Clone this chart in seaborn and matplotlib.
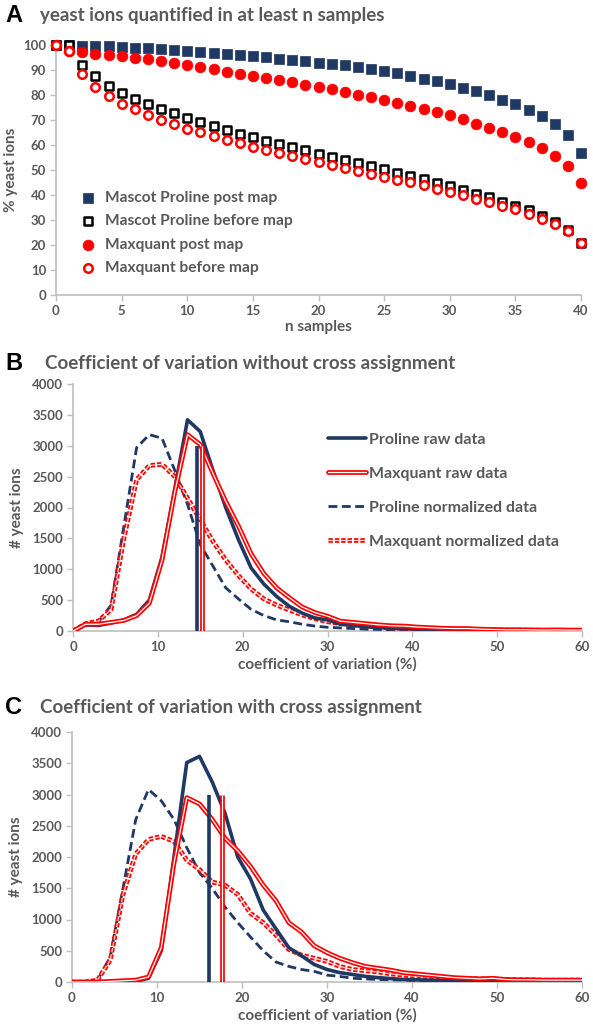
import matplotlib
matplotlib.use("Agg")
import pandas as pd
import seaborn as sns
import matplotlib.pyplot as plt
import matplotlib.patheffects as pe

# painel A: % de ions de levedura quantificados em pelo menos n amostras
n_samples = list(range(0, 41))
proline_post = [100, 100, 99.8, 99.6, 99.5, 99.3, 99.0, 98.8, 98.5, 98.2, 97.8,
                97.4, 97.0, 96.5, 96.0, 95.7, 95.2, 94.6, 94.1, 93.6, 93.0,
                92.5, 91.9, 91.1, 90.3, 89.6, 88.7, 87.6, 86.4, 85.6, 84.4,
                83.0, 81.6, 80.0, 78.2, 76.3, 74.1, 71.7, 68.3, 64.2, 56.8]
proline_before = [100, 100, 91.9, 87.6, 83.8, 81.0, 78.5, 76.3, 74.4, 72.7, 70.9,
                  69.2, 67.5, 65.9, 64.5, 63.1, 61.7, 60.4, 59.1, 57.9, 56.6,
                  55.2, 54.0, 52.7, 51.6, 50.3, 49.0, 47.6, 46.3, 45.0, 43.6,
                  42.1, 40.6, 39.2, 37.4, 35.8, 34.0, 31.7, 29.2, 26.1, 20.9]
maxquant_post = [100, 97.8, 97.1, 96.5, 96.0, 95.5, 95.0, 94.4, 93.6, 92.8, 92.0,
                 91.1, 90.3, 89.4, 88.6, 87.8, 87.0, 86.1, 85.1, 84.2, 83.4,
                 82.4, 81.3, 80.2, 79.3, 78.2, 77.0, 75.8, 74.4, 73.2, 71.9,
                 70.3, 68.6, 67.0, 65.2, 63.3, 61.1, 58.7, 55.6, 51.8, 44.7]
maxquant_before = [100, 97.6, 88.3, 83.1, 79.6, 76.5, 74.3, 72.1, 70.2, 68.5, 66.6,
                   65.1, 63.6, 62.2, 60.8, 59.4, 58.1, 56.9, 55.8, 54.5, 53.2,
                   52.1, 50.8, 49.6, 48.5, 47.3, 46.2, 45.1, 43.9, 42.6, 41.4,
                   40.1, 38.6, 37.3, 35.8, 34.3, 32.5, 30.5, 28.5, 25.6, 20.8]

# paineis B e C: distribuicao do coeficiente de variacao
cv_bins = [0, 1.5, 3, 4.5, 6, 7.5, 9, 10.5, 12, 13.5, 15, 16.5, 18, 19.5, 21,
           22.5, 24, 25.5, 27, 28.5, 30, 31.5, 33, 34.5, 36, 37.5, 39, 40.5,
           42, 43.5, 45, 46.5, 48, 49.5, 51, 52.5, 54, 55.5, 57, 58.5, 60]

b_proline_raw = [0, 100, 90, 130, 180, 270, 500, 1200, 2300, 3420, 3230, 2600,
                 2000, 1480, 1020, 760, 560, 400, 290, 210, 180, 110, 90, 70,
                 55, 45, 40, 32, 30, 25, 22, 20, 15, 12, 10, 10, 10, 10, 10, 10, 10]
b_maxquant_raw = [0, 110, 110, 140, 170, 250, 450, 1150, 2250, 3180, 3020, 2550,
                  2100, 1700, 1250, 930, 700, 540, 390, 300, 240, 160, 140, 120,
                  100, 85, 80, 65, 55, 45, 40, 40, 30, 25, 20, 20, 18, 15, 18, 15, 15]
b_proline_norm = [0, 90, 150, 420, 1700, 2970, 3180, 3120, 2600, 2050, 1400, 1050,
                  700, 520, 350, 250, 180, 150, 110, 80, 60, 50, 40, 30, 25, 20,
                  18, 15, 12, 10, 10, 8, 8, 6, 6, 5, 5, 5, 5, 5, 5]
b_maxquant_norm = [0, 120, 160, 350, 1500, 2450, 2680, 2700, 2500, 2150, 1800, 1450,
                   1150, 900, 680, 520, 420, 340, 260, 200, 150, 120, 100, 80, 60,
                   50, 45, 40, 35, 30, 28, 25, 20, 18, 15, 15, 12, 12, 10, 10, 10]
b_medians = [14.6, 15.2]

c_proline_raw = [0, 0, 0, 0, 5, 10, 60, 500, 2000, 3510, 3610, 3200, 2700, 2000,
                 1650, 1150, 850, 550, 420, 280, 200, 150, 120, 90, 70, 55, 40,
                 35, 30, 25, 22, 20, 18, 15, 12, 12, 10, 10, 10, 10, 10]
c_maxquant_raw = [0, 0, 0, 10, 20, 30, 80, 550, 1900, 2950, 2850, 2600, 2300, 2100,
                  1850, 1550, 1300, 950, 800, 580, 470, 380, 310, 250, 220, 190,
                  150, 130, 110, 90, 70, 60, 50, 60, 40, 35, 35, 30, 30, 30, 30]
c_proline_norm = [0, 0, 30, 400, 1500, 2600, 3080, 2900, 2600, 2150, 1750, 1500,
                  1200, 950, 720, 500, 320, 250, 200, 170, 110, 90, 60, 50, 40,
                  35, 30, 25, 20, 18, 15, 15, 12, 12, 10, 10, 10, 10, 10, 10, 10]
c_maxquant_norm = [0, 0, 30, 350, 1400, 2050, 2280, 2330, 2250, 1950, 1800, 1600,
                   1550, 1400, 1100, 950, 750, 520, 430, 380, 330, 250, 200, 180,
                   160, 130, 110, 90, 80, 70, 60, 55, 50, 45, 40, 35, 35, 30, 30, 30, 30]
c_medians = [16.1, 17.7]
median_height = 3000

NAVY = "#1f3864"
RED = "#ff0000"
GREY = "#595959"

sns.set_style("white")
plt.rcParams["font.family"] = ["Lato", "DejaVu Sans"]
plt.rcParams["font.weight"] = "bold"

fig = plt.figure(figsize=(5.93, 10.32), dpi=100)


def estilo(ax):
    sns.despine(ax=ax)
    for lado in ["left", "bottom"]:
        ax.spines[lado].set_color("#bfbfbf")
        ax.spines[lado].set_linewidth(1.2)
    ax.tick_params(axis="both", which="major", length=4, width=1, color="#bfbfbf",
                   labelsize=9.5, labelcolor=GREY, direction="out", pad=3,
                   left=True, bottom=True)
    for lab in ax.get_xticklabels() + ax.get_yticklabels():
        lab.set_fontweight("bold")


# ---------------- A ----------------
axA = fig.add_axes([56 / 593, 1 - 295 / 1032, 525 / 593, 250 / 1032])
dfA = pd.DataFrame({"n": n_samples, "pp": proline_post, "pb": proline_before,
                    "mp": maxquant_post, "mb": maxquant_before})
sns.scatterplot(data=dfA, x="n", y="pp", ax=axA, marker="s", s=52, color=NAVY,
                edgecolor=NAVY, linewidth=0.5, label="Mascot Proline post map", zorder=3)
sns.scatterplot(data=dfA, x="n", y="pb", ax=axA, marker="s", s=40, facecolor="white",
                edgecolor="black", linewidth=1.8, label="Mascot Proline before map", zorder=4)
sns.scatterplot(data=dfA, x="n", y="mp", ax=axA, marker="o", s=60, color=RED,
                edgecolor=RED, linewidth=0.5, label="Maxquant post map", zorder=5)
sns.scatterplot(data=dfA, x="n", y="mb", ax=axA, marker="o", s=38, facecolor="white",
                edgecolor=RED, linewidth=1.8, label="Maxquant before map", zorder=6)
axA.set_xlim(0, 40)
axA.set_ylim(0, 100)
axA.set_xticks(range(0, 41, 5))
axA.set_yticks(range(0, 101, 10))
axA.set_xlabel("n samples", fontsize=11, color=GREY, fontweight="bold", labelpad=2)
axA.set_ylabel("% yeast ions", fontsize=11, color=GREY, fontweight="bold", labelpad=4)
estilo(axA)
legA = axA.legend(loc="lower left", bbox_to_anchor=(0.02, 0.055), frameon=False,
                  fontsize=11.2, handletextpad=0.1, labelspacing=0.6, borderaxespad=0)
for t in legA.get_texts():
    t.set_color(GREY)
    t.set_fontweight("bold")
for col in axA.collections:
    col.set_clip_on(False)


def painel_cv(ax, raw_p, raw_m, norm_p, norm_m, medianas, legenda):
    df = pd.DataFrame({"cv": cv_bins, "rp": raw_p, "rm": raw_m, "np": norm_p, "nm": norm_m})
    dupla = [pe.Stroke(linewidth=3.4, foreground=RED), pe.Normal()]
    sns.lineplot(data=df, x="cv", y="np", ax=ax, color=NAVY, lw=2.0,
                 linestyle=(0, (3.2, 1.6)), label="Proline normalized data", zorder=3)
    sns.lineplot(data=df, x="cv", y="nm", ax=ax, color="#ffd6d6", lw=0.9,
                 linestyle=(0, (3.5, 1.6)), path_effects=dupla,
                 label="Maxquant normalized data", zorder=4)
    sns.lineplot(data=df, x="cv", y="rp", ax=ax, color=NAVY, lw=2.6,
                 label="Proline raw data", zorder=5)
    sns.lineplot(data=df, x="cv", y="rm", ax=ax, color="white", lw=0.9,
                 path_effects=dupla, label="Maxquant raw data", zorder=6)
    ax.vlines(medianas[0], 0, median_height, color=NAVY, lw=2.6, zorder=7)
    ax.vlines(medianas[1], 0, median_height, color="white", lw=0.9, zorder=7,
              path_effects=dupla)
    ax.set_xlim(0, 60)
    ax.set_ylim(0, 4000)
    ax.set_xticks(range(0, 61, 10))
    ax.set_yticks(range(0, 4001, 500))
    ax.set_xlabel("coefficient of variation (%)", fontsize=11, color=GREY,
                  fontweight="bold", labelpad=3)
    ax.set_ylabel("# yeast ions", fontsize=11, color=GREY, fontweight="bold", labelpad=6)
    estilo(ax)
    if legenda:
        h, l = ax.get_legend_handles_labels()
        ordem = [2, 3, 0, 1]
        leg = ax.legend([h[i] for i in ordem], [l[i] for i in ordem], loc="upper left",
                        bbox_to_anchor=(0.488, 0.83), frameon=False, fontsize=11.5,
                        handlelength=2.4, handletextpad=0.15, labelspacing=1.25,
                        borderaxespad=0)
        for t in leg.get_texts():
            t.set_color(GREY)
            t.set_fontweight("bold")
    else:
        ax.get_legend().remove()


# ---------------- B ----------------
axB = fig.add_axes([73 / 593, 1 - 631 / 1032, 509 / 593, 247 / 1032])
painel_cv(axB, b_proline_raw, b_maxquant_raw, b_proline_norm, b_maxquant_norm,
          b_medians, True)

# ---------------- C ----------------
axC = fig.add_axes([72 / 593, 1 - 982 / 1032, 510 / 593, 250 / 1032])
painel_cv(axC, c_proline_raw, c_maxquant_raw, c_proline_norm, c_maxquant_norm,
          c_medians, False)

# titulos dos paineis
titulos = [("A", "yeast ions quantified in at least n samples", 15, 40),
           ("B", "Coefficient of variation without cross assignment", 363, 45),
           ("C", "Coefficient of variation with cross assignment", 707, 40)]
for letra, texto, y, x in titulos:
    fig.text(5 / 593, 1 - y / 1032, letra, fontsize=17, fontweight="bold",
             family=["Liberation Sans", "DejaVu Sans"], color="black", va="center")
    fig.text(x / 593, 1 - y / 1032, texto, fontsize=13.5, fontweight="bold",
             color=GREY, va="center")

fig.savefig("out.png", dpi=100)
